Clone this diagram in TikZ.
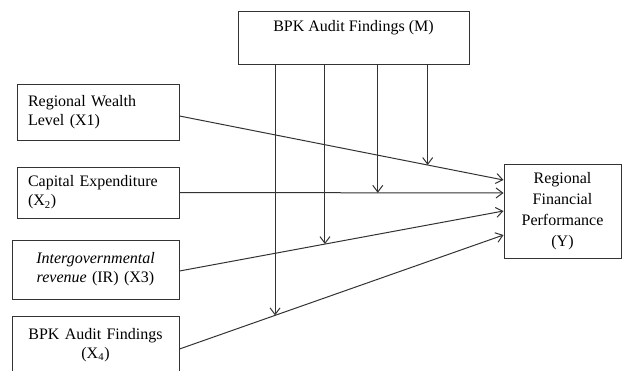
\documentclass[tikz,border=0pt]{standalone}
\usepackage{fontspec}
\setmainfont{Liberation Serif}
\usepackage{tikz}
\usetikzlibrary{arrows.meta,calc}
\tikzset{
  varbox/.style  = {draw=black!80,line width=0.75pt,inner ysep=0pt,
                    font=\fontsize{12}{14.25}\selectfont},
  patharr/.style = {-{Straight Barb[length=5pt,width=7.5pt]},line width=0.75pt,black!80}
}

\begin{document}
\begin{tikzpicture}[x=0.75pt,y=-0.75pt]
  \clip (0,0) rectangle (622,371);
  \node[varbox,minimum width=173.25pt,minimum height=39.75pt,align=center]
        (mod) at (353.5,37.5) {\strut BPK Audit Findings (M)\\\strut};
  \node[varbox,minimum height=42pt,text width=105pt,inner xsep=8.25pt,align=left]
        (wealth) at (98,112) {Regional Wealth\\Level (X1)};
  \node[varbox,minimum height=38.25pt,text width=105pt,inner xsep=8.25pt,align=left]
        (capex) at (98,192.5) {Capital Expenditure\\(X\textsubscript{2})};
  \node[varbox,minimum height=44.25pt,text width=108.75pt,inner xsep=8.25pt,align=center]
        (igr) at (95.5,269.5) {\textit{Intergovernmental}\\\textit{revenue} (IR) (X3)};
  \node[varbox,minimum height=43.5pt,text width=108.75pt,inner xsep=8.25pt,align=center]
        (audit) at (95.5,345) {BPK Audit Findings\\(X\textsubscript{4})};
  \node[varbox,minimum height=70.5pt,text width=75pt,inner xsep=6.375pt,align=center,
        font=\fontsize{12}{15.75}\selectfont]
        (perf) at (562.5,211) {Regional\\Financial\\Performance\\(Y)};
  % direct paths, with a point on each where the moderator arrow lands
  \draw[patharr] ($(wealth.east)+(0,4)$) -- coordinate[pos=.766] (m1) ($(perf.west)+(0,-31)$);
  \draw[patharr] (capex.east) -- coordinate[pos=.612] (m2) ($(perf.west)+(0,-18)$);
  \draw[patharr] ($(igr.east)+(0,1.5)$) -- coordinate[pos=.449] (m3) (perf.west);
  \draw[patharr] ($(audit.east)+(0,4)$) -- coordinate[pos=.295] (m4) ($(perf.west)+(0,24)$);
  \foreach \m in {m1,m2,m3,m4}
    \draw[patharr] (mod.south -| \m) -- (\m);
\end{tikzpicture}
\end{document}
